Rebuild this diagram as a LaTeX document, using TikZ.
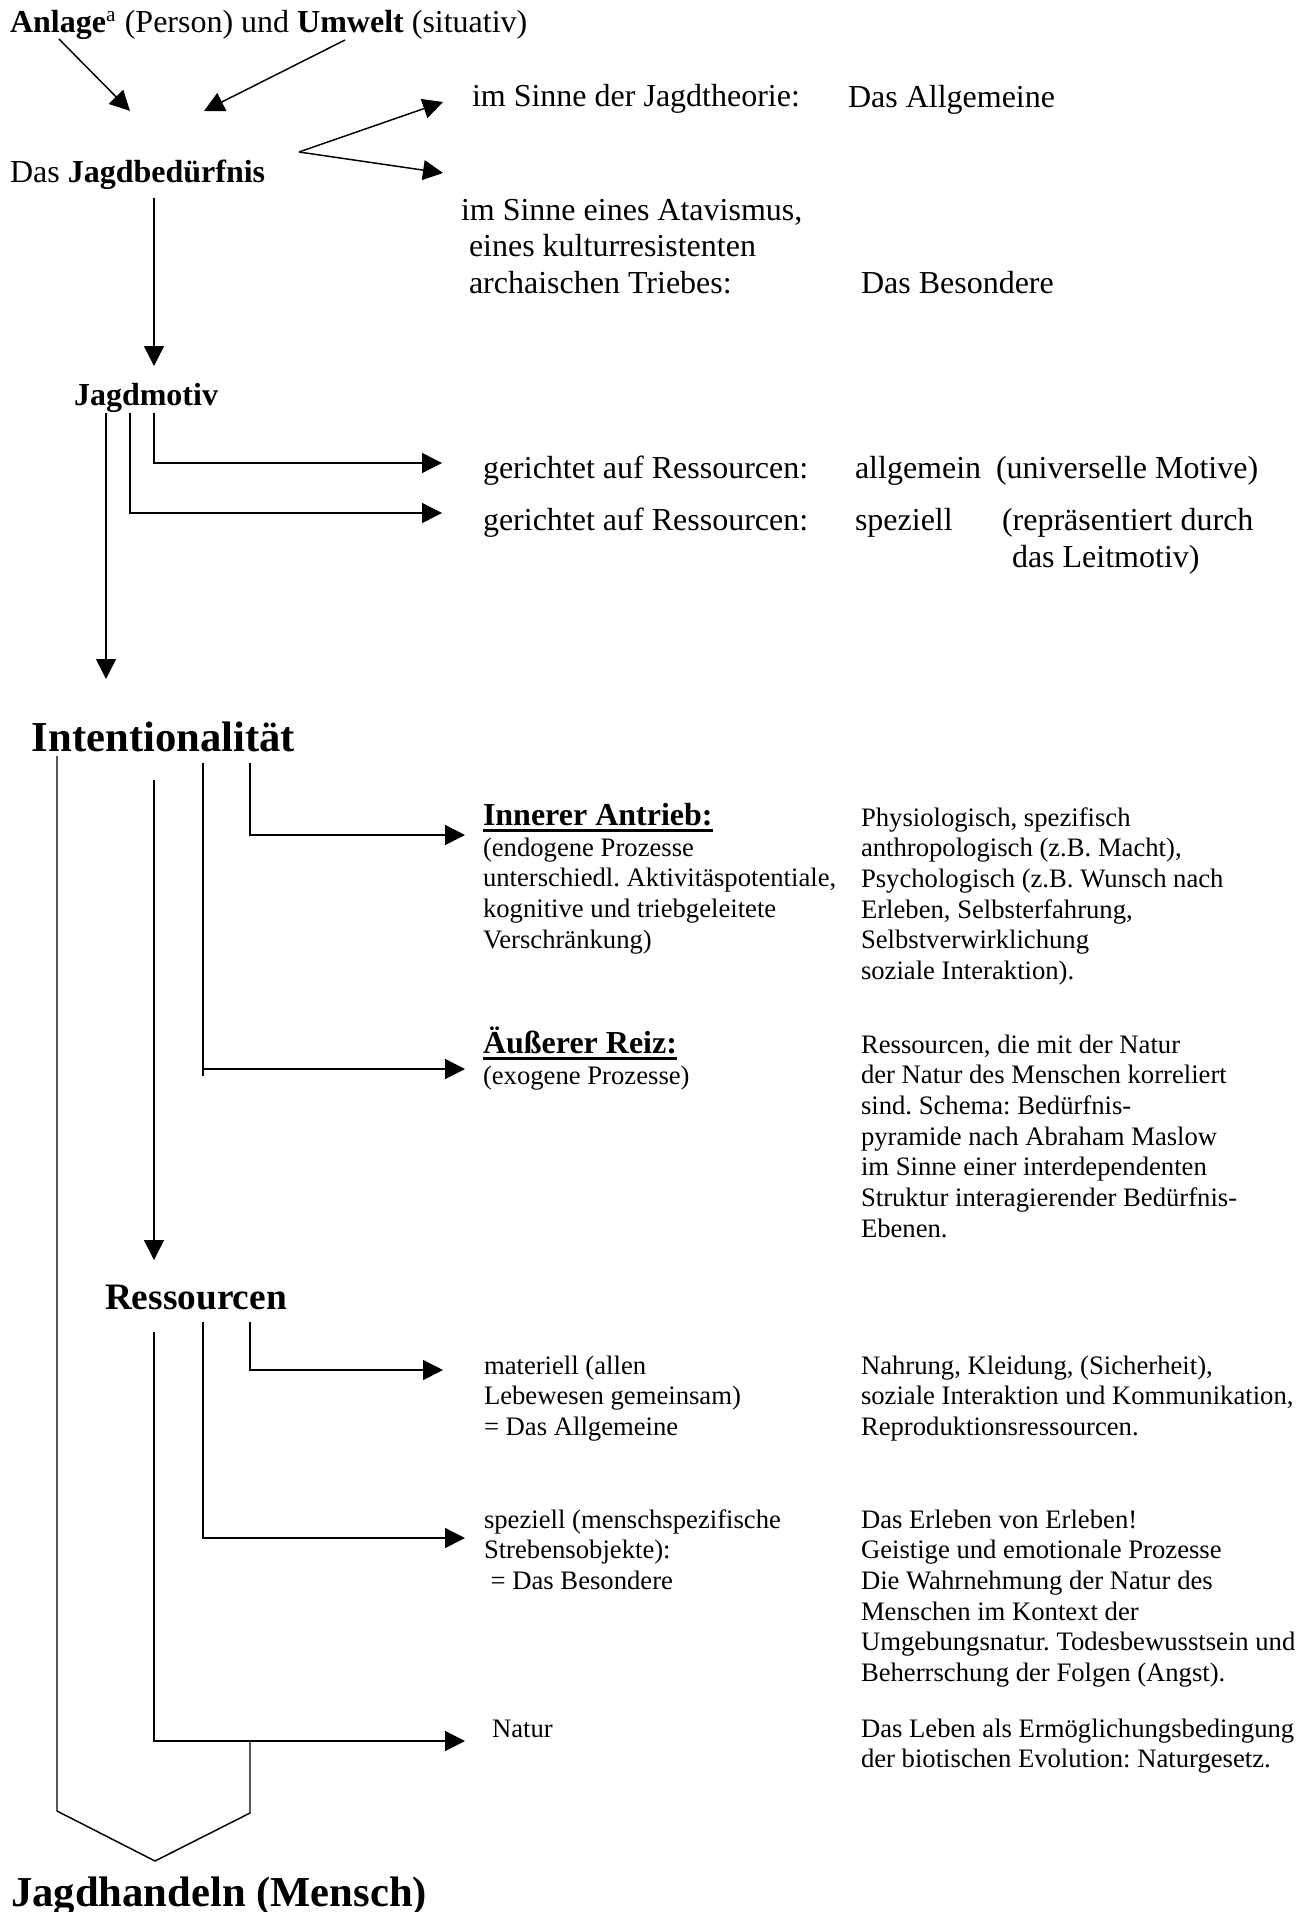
\documentclass[tikz,border=0pt]{standalone}
\usepackage{fontspec}
\setmainfont{Liberation Serif}
\usetikzlibrary{arrows.meta}
\newcommand\blk[1]{\begin{tabular}[t]{@{}l@{}}#1\end{tabular}}
\newcommand\ulbox[1]{\setbox0\hbox{#1}\rlap{\rule[-2.8pt]{\wd0}{1.2pt}}\box0}
\frenchspacing
\begin{document}
\frenchspacing
\begin{tikzpicture}[x=0.375pt, y=-0.375pt,
  txt/.style={anchor=base west, inner sep=0pt, outer sep=0pt, font=\fontsize{12}{13.8}\selectfont},
  txtb/.style={txt, font=\fontsize{12}{13.8}\selectfont\bfseries},
  sm/.style={txt, font=\fontsize{10}{11.5}\selectfont},
  hdmid/.style={txt, font=\fontsize{14}{16.1}\selectfont\bfseries},
  hdbig/.style={txt, font=\fontsize{16}{18.4}\selectfont\bfseries},
  conn/.style={line width=0.55pt},
  arr/.style={conn, -{Triangle[length=7.5pt,width=7.5pt]}}]
\fill[white] (0,0) rectangle (1313,1912);
\useasboundingbox (0,0) rectangle (1313,1912);

% ---------- top ----------
\node[txt] (anl) at (10,33) {\textbf{Anlage}\textsuperscript{a} (Person) und \textbf{Umwelt} (situativ)};
\coordinate (a1s) at (59,39);  \coordinate (a1e) at (130,111);
\coordinate (a2s) at (345,40); \coordinate (a2e) at (204,111);
\draw[arr] (a1s) -- (a1e);
\draw[arr] (a2s) -- (a2e);

\node[txt] (bed) at (10,183) {Das \textbf{Jagdbedürfnis}};
\coordinate (fork) at (299,152);
\coordinate (f1) at (443,102);
\coordinate (f2) at (443,173);
\draw[arr] (fork) -- (f1);
\draw[arr] (fork) -- (f2);

\node[txt] (jt) at (472,107) {im Sinne der Jagdtheorie:};
\node[txt] (allg) at (848,108) {Das Allgemeine};
\node[txt] (ata) at (461,220) {\blk{im Sinne eines Atavismus,\\\ eines kulturresistenten\\\ archaischen Triebes:}};
\node[txt] (bes) at (861,293) {Das Besondere};

\coordinate (b1) at (154,198); \coordinate (b2) at (154,366);
\draw[arr] (b1) -- (b2);

% ---------- Jagdmotiv ----------
\node[txtb] (motiv) at (74,405) {Jagdmotiv};
\coordinate (m1) at (154,413); \coordinate (e1) at (442,463);
\coordinate (m2) at (130,413); \coordinate (e2) at (442,513);
\coordinate (m3) at (106,413); \coordinate (e3) at (106,679);
\draw[arr] (m1) |- (e1);
\draw[arr] (m2) |- (e2);
\draw[arr] (m3) -- (e3);

\node[txt] (g1) at (483,478) {gerichtet auf Ressourcen:};
\node[txt] (g1b) at (855,478) {allgemein};
\node[txt] (g1c) at (996,478) {(universelle Motive)};
\node[txt] (g2) at (483,530) {gerichtet auf Ressourcen:};
\node[txt] (g2b) at (855,530) {speziell};
\node[txt] (g2c) at (1002,530) {(repräsentiert durch};
\node[txt] (g2d) at (1012,567) {das Leitmotiv)};

% ---------- Intentionalitaet ----------
\node[hdbig] (int) at (32,751) {Intentionalität};
\coordinate (i0) at (57,756);
\coordinate (i1) at (154,780); \coordinate (i1e) at (154,1260);
\coordinate (i2) at (203,763); \coordinate (i2b) at (203,1076); \coordinate (i2e) at (465,1069);
\coordinate (i3) at (250,763); \coordinate (i3e) at (465,835);
\draw[arr] (i3) |- (i3e);
\draw[conn] (i2) -- (i2b);
\draw[arr] (i2 |- i2e) -- (i2e);
\draw[arr] (i1) -- (i1e);

\node[txtb] (inn) at (483,825) {\ulbox{Innerer Antrieb:}};
\node[sm] (innt) at (483,856) {\blk{(endogene Prozesse\\unterschiedl. Aktivitäspotentiale,\\kognitive und triebgeleitete\\Verschränkung)}};
\node[sm] (innr) at (861,826) {\blk{Physiologisch, spezifisch\\anthropologisch (z.B. Macht),\\Psychologisch (z.B. Wunsch nach\\Erleben, Selbsterfahrung,\\Selbstverwirklichung\\soziale Interaktion).}};

\node[txtb] (aus) at (483,1053) {\ulbox{Äußerer Reiz:}};
\node[sm] (aust) at (483,1084) {(exogene Prozesse)};
\node[sm] (ausr) at (861,1053) {\blk{Ressourcen, die mit der Natur\\der Natur des Menschen korreliert\\sind. Schema: Bedürfnis-\\pyramide nach Abraham Maslow\\im Sinne einer interdependenten\\Struktur interagierender Bedürfnis-\\Ebenen.}};

% ---------- Ressourcen ----------
\node[hdmid] (res) at (105,1309) {Ressourcen};
\coordinate (r1) at (250,1322); \coordinate (r1e) at (443,1370);
\coordinate (r2) at (203,1322); \coordinate (r2e) at (465,1538);
\coordinate (r3) at (154,1332); \coordinate (r3e) at (465,1741);
\draw[arr] (r1) |- (r1e);
\draw[arr] (r2) |- (r2e);
\draw[arr] (r3) |- (r3e);

\node[sm] (mat) at (484,1374) {\blk{materiell (allen\\Lebewesen gemeinsam)\\= Das Allgemeine}};
\node[sm] (matr) at (861,1374) {\blk{Nahrung, Kleidung, (Sicherheit),\\soziale Interaktion und Kommunikation,\\Reproduktionsressourcen.}};
\node[sm] (spz) at (484,1528) {\blk{speziell (menschspezifische\\Strebensobjekte):\\\ = Das Besondere}};
\node[sm] (spzr) at (861,1528) {\blk{Das Erleben von Erleben!\\Geistige und emotionale Prozesse\\Die Wahrnehmung der Natur des\\Menschen im Kontext der\\Umgebungsnatur. Todesbewusstsein und\\Beherrschung der Folgen (Angst).}};
\node[sm] (nat) at (492,1737) {Natur};
\node[sm] (natr) at (861,1737) {\blk{Das Leben als Ermöglichungsbedingung\\der biotischen Evolution: Naturgesetz.}};

% ---------- Chevron to Jagdhandeln ----------
\coordinate (c1) at (57,1811);
\coordinate (c2) at (155,1861);
\coordinate (c3) at (250,1813);
\coordinate (c4) at (250,1741);
\draw[conn] (i0) -- (c1) -- (c2) -- (c3) -- (c4);

\node[hdbig] (hand) at (11,1906) {Jagdhandeln (Mensch)};
\end{tikzpicture}
\end{document}
